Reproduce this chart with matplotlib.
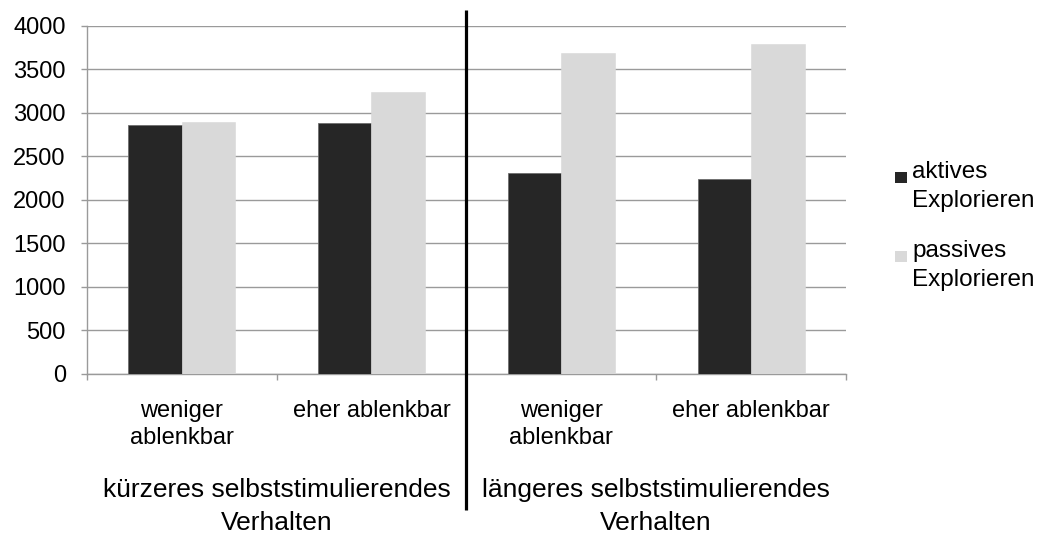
import matplotlib
matplotlib.use("Agg")
import matplotlib.pyplot as plt
import matplotlib.transforms as mtransforms
from matplotlib.patches import Rectangle
import numpy as np

# Data
categories = ["weniger\nablenkbar", "eher ablenkbar", "weniger\nablenkbar", "eher ablenkbar"]
group_labels = ["kürzeres selbststimulierendes\nVerhalten", "längeres selbststimulierendes\nVerhalten"]
series_names = ["aktives\nExplorieren", "passives\nExplorieren"]
aktives = [2865, 2880, 2312, 2245]
passives = [2892, 3242, 3683, 3793]
series_colors = ["#262626", "#d9d9d9"]
yticks = [0, 500, 1000, 1500, 2000, 2500, 3000, 3500, 4000]

W, H = 1040, 537
fig = plt.figure(figsize=(W / 100, H / 100), dpi=100)
ax = fig.add_axes([86.7 / W, 1 - 374 / H, (846 - 86.7) / W, (374 - 25.7) / H])

x = np.arange(len(categories))
bw = 0.282
ax.bar(x - bw / 2, aktives, width=bw, color=series_colors[0], edgecolor="#6e6e6e",
       linewidth=0.6, zorder=3)
ax.bar(x + bw / 2, passives, width=bw, color=series_colors[1], edgecolor="#d9d9d9",
       linewidth=0.4, zorder=3)

ax.set_xlim(-0.5, len(categories) - 0.5)
ax.set_ylim(0, 4000)

# Axes styling
grid_col = "#9a9a9a"
tick_font = dict(family=["Liberation Sans", "DejaVu Sans"], size=17)
ax.set_yticks(yticks)
ax.set_yticklabels([str(v) for v in yticks], **tick_font)
ax.yaxis.grid(True, color=grid_col, linewidth=1.0, zorder=0)
ax.set_axisbelow(True)
for side in ["top", "right"]:
    ax.spines[side].set_visible(False)
for side in ["left", "bottom"]:
    ax.spines[side].set_color(grid_col)
    ax.spines[side].set_linewidth(1.0)
ax.tick_params(axis="y", length=4.5, width=1.0, color=grid_col, pad=10.5)

ax.set_xticks(x)
ax.set_xticklabels(categories, linespacing=1.3, **tick_font)
ax.set_xticks(np.arange(-0.5, len(categories)), minor=True)
ax.tick_params(axis="x", which="major", length=0, pad=19)
ax.tick_params(axis="x", which="minor", length=4.5, width=1.0, color=grid_col)

# Group labels under each pair of categories
fig_y = mtransforms.blended_transform_factory(ax.transData, fig.transFigure)
group_font = dict(family=["Liberation Sans", "DejaVu Sans"], size=19)
for i, lab in enumerate(group_labels):
    ax.text(2 * i + 0.5, 1 - 478 / H, lab, transform=fig_y, ha="center", va="top",
            linespacing=1.47, **group_font)

# Divider between the two groups
div_tr = mtransforms.blended_transform_factory(ax.transData, ax.transAxes)
ax.plot([1.5, 1.5], [-0.39, 1.045], transform=div_tr, color="black", linewidth=2.3,
        clip_on=False, zorder=5, solid_capstyle="butt")

# Legend
legend_font = dict(family=["Liberation Sans", "DejaVu Sans"], size=17.5)
for i, (name, col) in enumerate(zip(series_names, series_colors)):
    top = 161 + i * 79
    fig.patches.append(Rectangle((895 / W, 1 - (top + 22) / H), 12 / W, 11 / H,
                                 transform=fig.transFigure, facecolor=col,
                                 edgecolor="none"))
    fig.text(912 / W, 1 - top / H, name, ha="left", va="top", linespacing=1.4,
             **legend_font)

fig.savefig("out.png", dpi=100)
